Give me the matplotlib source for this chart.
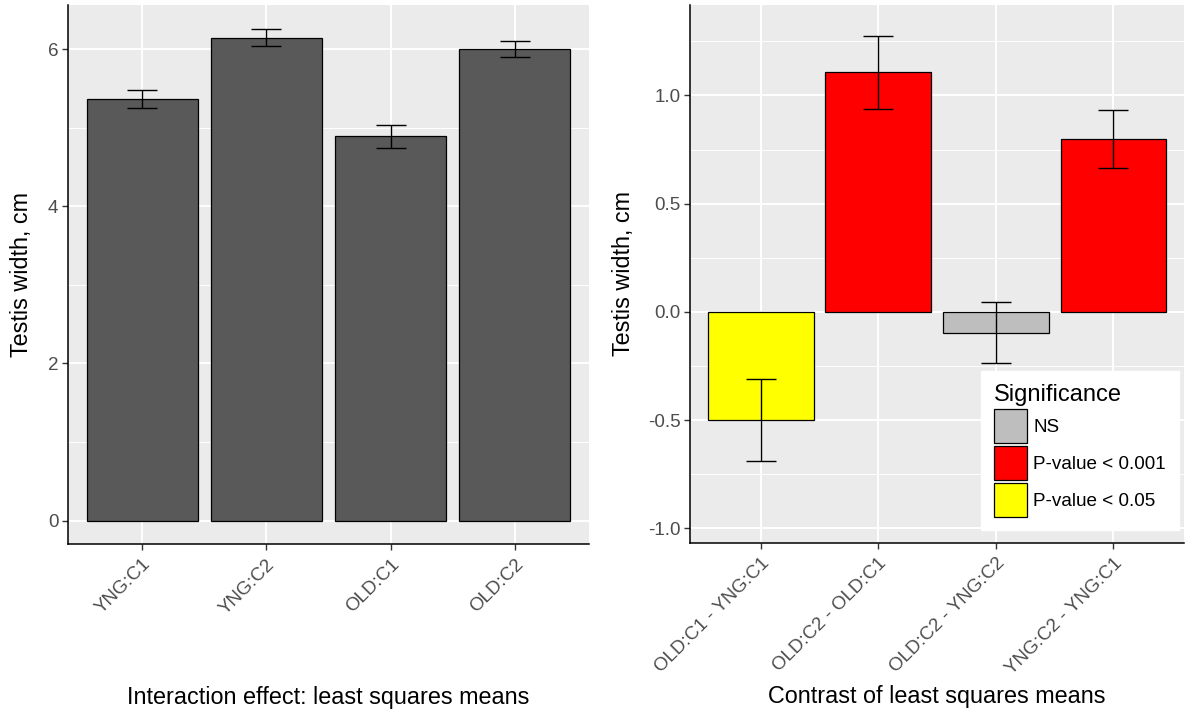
import matplotlib
matplotlib.use("Agg")
import matplotlib.pyplot as plt
from matplotlib.patches import Patch
from matplotlib.ticker import MultipleLocator
import numpy as np

plt.rcParams['font.family'] = ['Liberation Sans', 'DejaVu Sans']

# ---- data ----
left_cats = ["YNG:C1", "YNG:C2", "OLD:C1", "OLD:C2"]
left_means = [5.36, 6.145, 4.89, 6.0]
left_err = [0.115, 0.105, 0.145, 0.10]

right_cats = ["OLD:C1 - YNG:C1", "OLD:C2 - OLD:C1", "OLD:C2 - YNG:C2", "YNG:C2 - YNG:C1"]
right_est = [-0.50, 1.107, -0.095, 0.80]
right_err = [0.19, 0.169, 0.14, 0.134]
right_sig = ["P-value < 0.05", "P-value < 0.001", "NS", "P-value < 0.001"]

sig_levels = ["NS", "P-value < 0.001", "P-value < 0.05"]
sig_colors = ["#BEBEBE", "#FF0000", "#FFFF00"]

left_yticks = [0, 2, 4, 6]
right_yticks = [-1.0, -0.5, 0.0, 0.5, 1.0]

# ---- figure ----
W, H = 1188, 715
fig = plt.figure(figsize=(W / 100, H / 100), dpi=100)
fig.patch.set_facecolor("white")

def px_axes(x0, x1, ytop, ybot):
    return fig.add_axes([x0 / W, 1 - ybot / H, (x1 - x0) / W, (ybot - ytop) / H])

axL = px_axes(68, 589, 5, 544)
axR = px_axes(690, 1184, 5, 543)

TICK_FS = 13.6
TITLE_FS = 16.8
TICK_COL = "#4D4D4D"

def style(ax, minor_step):
    ax.set_facecolor("#EBEBEB")
    for s in ["top", "right"]:
        ax.spines[s].set_visible(False)
    for s in ["left", "bottom"]:
        ax.spines[s].set_color("black")
        ax.spines[s].set_linewidth(1.1)
    ax.yaxis.set_minor_locator(MultipleLocator(minor_step))
    ax.grid(which="major", color="white", linewidth=1.4)
    ax.grid(which="minor", axis="y", color="white", linewidth=0.7)
    ax.set_axisbelow(True)
    ax.tick_params(which="major", length=4, width=1.0, color="#333333",
                   labelsize=TICK_FS, labelcolor=TICK_COL, pad=3)
    ax.tick_params(axis="x", which="major", pad=4.5)
    ax.tick_params(which="minor", length=0)

# ---- left panel ----
xL = np.arange(len(left_cats))
axL.bar(xL, left_means, width=0.9, color="#595959", edgecolor="black", linewidth=0.9, zorder=2)
axL.errorbar(xL, left_means, yerr=left_err, fmt="none", ecolor="black",
             elinewidth=1.0, capsize=11, capthick=1.0, zorder=3)
axL.set_xlim(-0.6, 3.6)
axL.set_ylim(-0.296, 6.56)
axL.set_yticks(left_yticks)
axL.set_yticklabels([str(v) for v in left_yticks])
axL.set_xticks(xL)
axL.set_xticklabels(left_cats, rotation=45, ha="right", va="top", rotation_mode="anchor")
style(axL, 1)
axL.set_xlabel("Interaction effect: least squares means", fontsize=TITLE_FS, va="center")
axL.xaxis.set_label_coords(0.5, -0.284)
axL.set_ylabel("Testis width, cm", fontsize=TITLE_FS, va="center")
axL.yaxis.set_label_coords(-0.0885, 0.5)

# ---- right panel ----
xR = np.arange(len(right_cats))
colR = [sig_colors[sig_levels.index(s)] for s in right_sig]
axR.bar(xR, right_est, width=0.9, color=colR, edgecolor="black", linewidth=0.9, zorder=2)
axR.errorbar(xR, right_est, yerr=right_err, fmt="none", ecolor="black",
             elinewidth=1.0, capsize=11, capthick=1.0, zorder=3)
axR.set_xlim(-0.6, 3.6)
axR.set_ylim(-1.067, 1.418)
axR.set_yticks(right_yticks)
axR.set_yticklabels([f"{v:.1f}" for v in right_yticks])
axR.set_xticks(xR)
axR.set_xticklabels(right_cats, rotation=45, ha="right", va="top", rotation_mode="anchor")
style(axR, 0.25)
axR.set_xlabel("Contrast of least squares means", fontsize=TITLE_FS, va="center")
axR.xaxis.set_label_coords(0.5, -0.286)
axR.set_ylabel("Testis width, cm", fontsize=TITLE_FS, va="center")
axR.yaxis.set_label_coords(-0.135, 0.5)

handles = [Patch(facecolor=c, edgecolor="black", linewidth=0.9, label=l)
           for l, c in zip(sig_levels, sig_colors)]
leg = axR.legend(handles=handles, title="Significance", loc="lower right",
                 bbox_to_anchor=(1179 / W, 1 - 530 / H), bbox_transform=fig.transFigure,
                 borderaxespad=0, fontsize=TICK_FS, title_fontsize=17,
                 handlelength=1.75, handleheight=2.39, labelspacing=0.16,
                 handletextpad=0.32, borderpad=0.7, frameon=True, fancybox=False,
                 alignment="left")
leg.get_frame().set_facecolor("white")
leg.get_frame().set_edgecolor("white")
leg.get_frame().set_alpha(1)
for t in leg.get_texts():
    t.set_color("black")

fig.savefig("out.png", dpi=100)
